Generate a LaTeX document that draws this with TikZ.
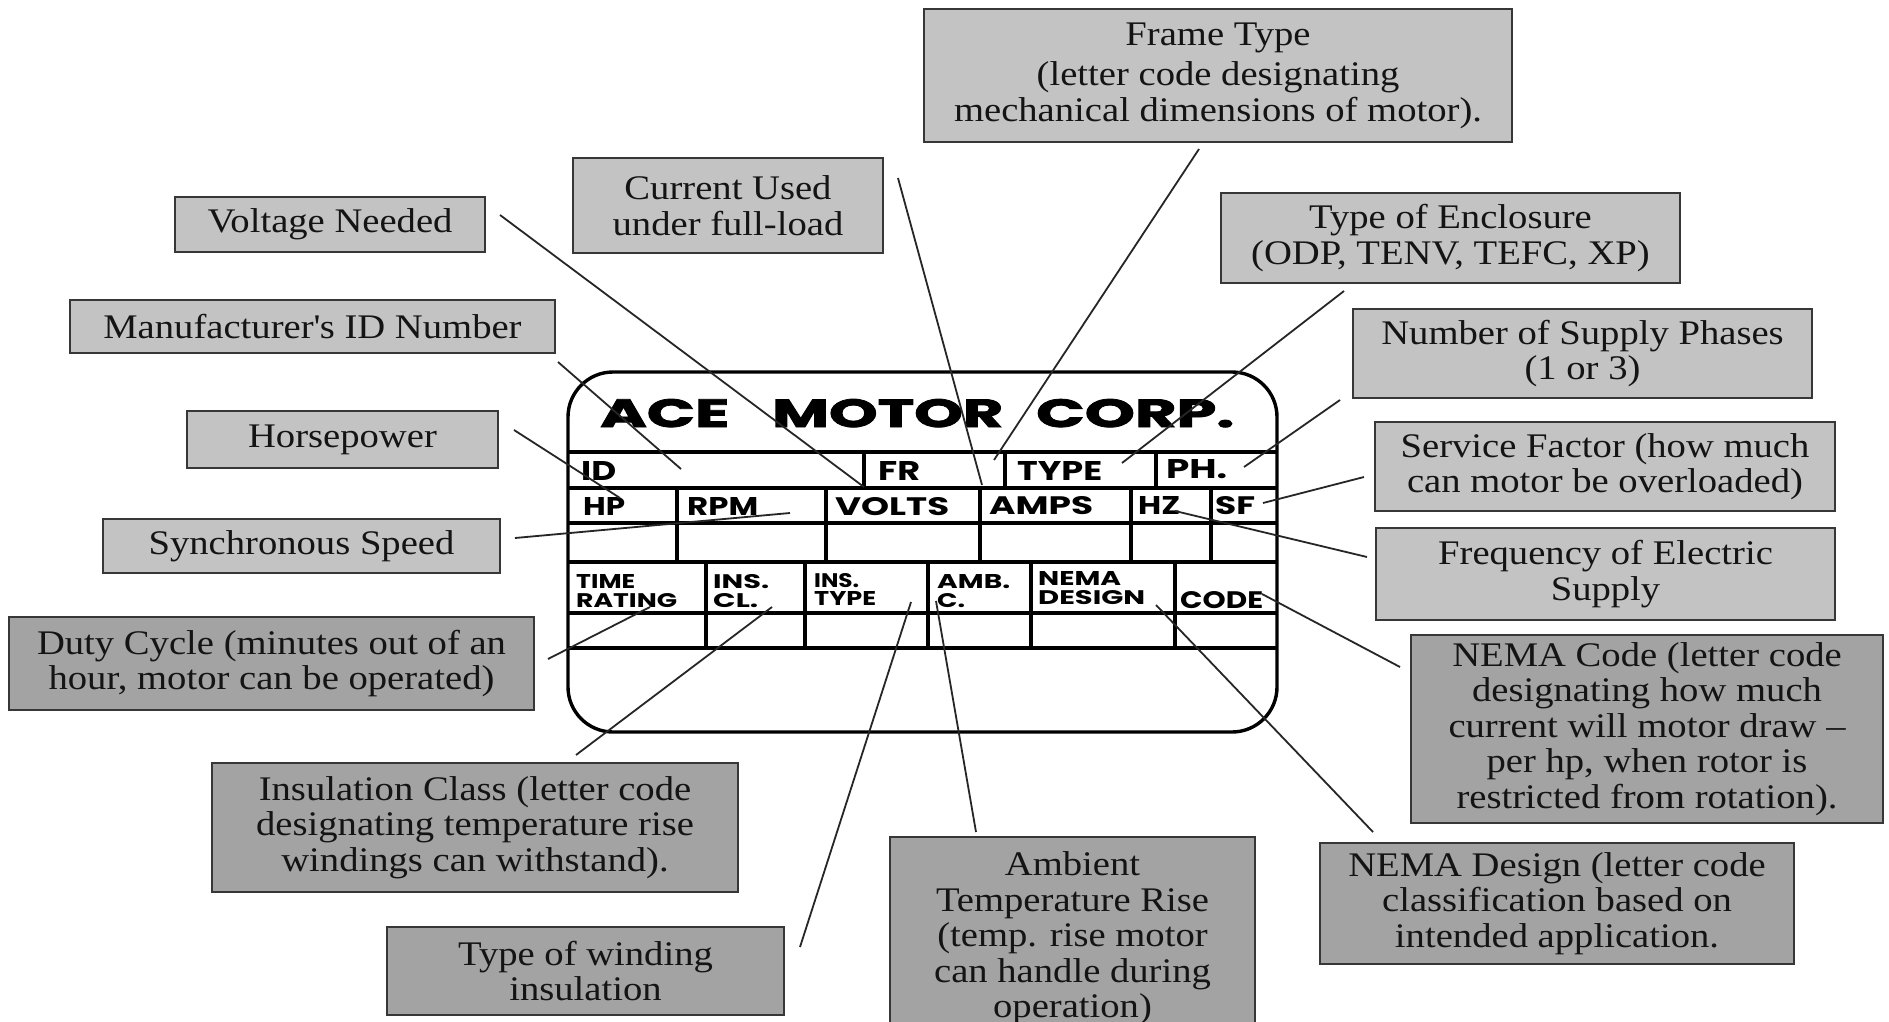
\documentclass[tikz,border=0pt]{standalone}
\usepackage{fontspec}
\usepackage{graphicx}
\setmainfont{Liberation Serif}[FakeStretch=1.12]
\newfontfamily\platefont{Poppins}
\newfontfamily\titlefont{Poppins}[FakeBold=2]
\definecolor{lightbox}{RGB}{195,195,195}
\definecolor{darkbox}{RGB}{163,163,163}
\definecolor{boxline}{RGB}{55,55,55}
\definecolor{ink}{RGB}{20,20,20}
\newcommand\pltxt[3]{\resizebox{#1pt}{#2pt}{\platefont\bfseries #3}}
\newcommand\tltxt[3]{\resizebox{#1pt}{#2pt}{\titlefont\bfseries #3}}
\tikzset{
  lbl/.style={draw=boxline, line width=2.5pt, align=center, inner sep=0pt,
    text=ink, font=\fontsize{34.5}{35.5}\selectfont},
  lightlbl/.style={lbl, fill=lightbox},
  darklbl/.style={lbl, fill=darkbox},
  leader/.style={draw=black!85, line width=1.8pt},
  plateline/.style={line width=3.4pt, black},
  ptxt/.style={anchor=base west, inner sep=0pt},
}
\begin{document}
\begin{tikzpicture}[x=1pt,y=-1pt]
\useasboundingbox (0,0) rectangle (1889,1022);
\fill[white] (0,0) rectangle (1889,1022);

% ---------- label boxes ----------
\node[lightlbl, minimum width=588pt, minimum height=133pt] (frame) at (1218,75.5)
  {Frame Type\\[5pt](letter code designating\\mechanical dimensions of motor).};
\node[lightlbl, minimum width=310pt, minimum height=95pt] (current) at (728,205.5)
  {Current Used\\under full-load};
\node[lightlbl, minimum width=310pt, minimum height=55pt] (voltage) at (330,224.5)
  {Voltage Needed};
\node[lightlbl, minimum width=459pt, minimum height=90pt] (enclosure) at (1450.5,238)
  {Type of Enclosure\\(ODP, TENV, TEFC, XP)};
\node[lightlbl, minimum width=485pt, minimum height=53pt] (mfr) at (312.5,326.5)
  {Manufacturer\textquotesingle s ID Number};
\node[lightlbl, minimum width=459pt, minimum height=89pt] (phases) at (1582.5,353.5)
  {Number of Supply Phases\\(1 or 3)};
\node[lightlbl, minimum width=311pt, minimum height=57pt] (hp) at (342.5,439.5)
  {Horsepower};
\node[lightlbl, minimum width=460pt, minimum height=89pt] (sf) at (1605,466.5)
  {Service Factor (how much\\can motor be overloaded)};
\node[lightlbl, minimum width=397pt, minimum height=54pt] (sync) at (301.5,546)
  {Synchronous Speed};
\node[lightlbl, minimum width=459pt, minimum height=92pt] (freq) at (1605.5,574)
  {Frequency of Electric\\Supply};
\node[darklbl, minimum width=525pt, minimum height=93pt] (duty) at (271.5,663.5)
  {Duty Cycle (minutes out of an\\hour, motor can be operated)};
\node[darklbl, minimum width=472pt, minimum height=188pt] (nemacode) at (1647,729)
  {NEMA Code (letter code\\designating how much\\current will motor draw --\\per hp, when rotor is\\restricted from rotation).};
\node[darklbl, minimum width=526pt, minimum height=129pt] (insclass) at (475,827.5)
  {Insulation Class (letter code\\designating temperature rise\\windings can withstand).};
\node[darklbl, minimum width=474pt, minimum height=121pt] (nemadesign) at (1557,903.5)
  {NEMA Design (letter code\\classification based on\\intended application.};
\node[darklbl, minimum width=365pt, minimum height=203pt] (ambient) at (1072.5,938.5)
  {Ambient\\Temperature Rise\\(temp. rise motor\\can handle during\\operation)};
\node[darklbl, minimum width=397pt, minimum height=88pt] (winding) at (585.5,971)
  {Type of winding\\insulation};

% ---------- nameplate ----------
\draw[plateline, fill=white, rounded corners=45pt] (568,372) rectangle (1277,732);
\foreach \yy in {452,488,523,562,613,648}
  \draw[plateline] (568,\yy) -- (1277,\yy);
\foreach \xx in {864,1005,1156}
  \draw[plateline] (\xx,452) -- (\xx,488);
\foreach \xx in {677,826,980,1131,1211}
  \draw[plateline] (\xx,488) -- (\xx,562);
\foreach \xx in {706,805,928,1031,1175}
  \draw[plateline] (\xx,562) -- (\xx,648);

\node[ptxt] (tA) at (600,427) {\tltxt{129}{28}{ACE}};
\node[ptxt] (tM) at (772,427) {\tltxt{231}{28}{MOTOR}};
\node[ptxt] (tC) at (1036,427) {\tltxt{198}{28}{CORP.}};

\node[ptxt] (lid) at (581,480) {\pltxt{35}{19}{ID}};
\node[ptxt] (lfr) at (878,480) {\pltxt{42}{19}{FR}};
\node[ptxt] (ltype) at (1017,480) {\pltxt{85}{19}{TYPE}};
\node[ptxt] (lph) at (1166,478) {\pltxt{61}{19}{PH.}};

\node[ptxt] (lhp) at (583,515) {\pltxt{42}{18}{HP}};
\node[ptxt] (lrpm) at (687,515) {\pltxt{71}{18}{RPM}};
\node[ptxt] (lvolts) at (835,515) {\pltxt{114}{18}{VOLTS}};
\node[ptxt] (lamps) at (989,514) {\pltxt{104}{18}{AMPS}};
\node[ptxt] (lhz) at (1138,514) {\pltxt{42}{18}{HZ}};
\node[ptxt] (lsf) at (1215,514) {\pltxt{40}{18}{SF}};

\node[ptxt] (ltime) at (576,588) {\pltxt{59}{14}{TIME}};
\node[ptxt] (lrating) at (576,607) {\pltxt{101}{14}{RATING}};
\node[ptxt] (lins1) at (713,588) {\pltxt{56}{14}{INS.}};
\node[ptxt] (lcl) at (713,607) {\pltxt{45}{14}{CL.}};
\node[ptxt] (lins2) at (814,587) {\pltxt{45}{14}{INS.}};
\node[ptxt] (ltype2) at (814,605) {\pltxt{62}{14}{TYPE}};
\node[ptxt] (lamb) at (937,588) {\pltxt{73}{14}{AMB.}};
\node[ptxt] (lc) at (937,607) {\pltxt{28}{14}{C.}};
\node[ptxt] (lnema) at (1038,585) {\pltxt{83}{14}{NEMA}};
\node[ptxt] (ldesign) at (1038,604) {\pltxt{107}{14}{DESIGN}};
\node[ptxt] (lcode) at (1180,608) {\pltxt{83}{17}{CODE}};

% ---------- connector end points ----------
\coordinate (c1s) at (500,215);   \coordinate (c1e) at (864,487);
\coordinate (c2s) at (558,362);   \coordinate (c2e) at (681,469);
\coordinate (c3s) at (514,430);   \coordinate (c3e) at (620,498);
\coordinate (c4s) at (515,538);   \coordinate (c4e) at (790,513);
\coordinate (c5s) at (548,659);   \coordinate (c5e) at (650,607);
\coordinate (c6s) at (576,755);   \coordinate (c6e) at (772,607);
\coordinate (c7s) at (800,947);   \coordinate (c7e) at (911,602);
\coordinate (c8s) at (976,832);   \coordinate (c8e) at (936,601);
\coordinate (c9s) at (1373,832);  \coordinate (c9e) at (1156,605);
\coordinate (c10s) at (1400,667); \coordinate (c10e) at (1262,594);
\coordinate (c11s) at (1367,557); \coordinate (c11e) at (1175,511);
\coordinate (c12s) at (1364,477); \coordinate (c12e) at (1263,503);
\coordinate (c13s) at (1340,400); \coordinate (c13e) at (1244,467);
\coordinate (c14s) at (1344,291); \coordinate (c14e) at (1122,463);
\coordinate (c15s) at (1199,149); \coordinate (c15e) at (994,460);
\coordinate (c16s) at (898,178);  \coordinate (c16e) at (982,485);

\foreach \i in {1,...,16}
  \draw[leader] (c\i s) -- (c\i e);
\end{tikzpicture}
\end{document}
